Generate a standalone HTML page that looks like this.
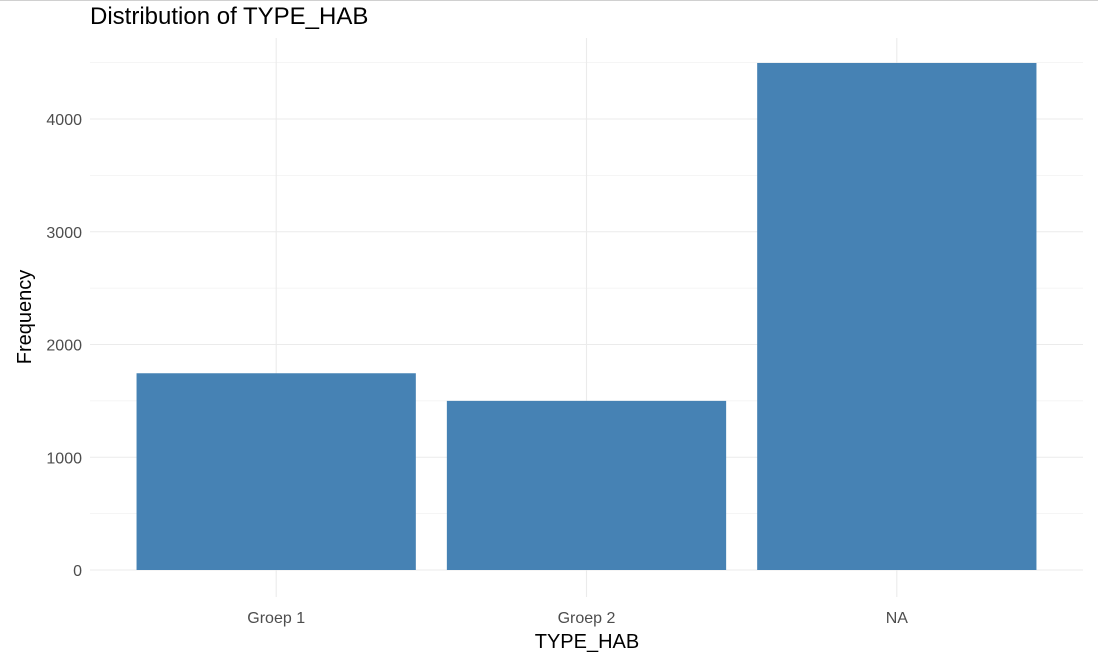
<!DOCTYPE html>
<html><head><meta charset="utf-8"><style>
body{margin:0;background:#fff;}
svg{display:block;font-family:"Liberation Sans",Arial,sans-serif;}
</style></head><body>
<svg id="chart" width="1098" height="656" viewBox="0 0 1098 656">
<line x1="0" y1="0.5" x2="1098" y2="0.5" stroke="#d0d0d0"/>
<text x="90" y="24" font-size="24" fill="#000">Distribution of TYPE_HAB</text>
<g id="grid"></g><g id="bars"></g><g id="axes"></g>
<text x="587" y="648" font-size="20" text-anchor="middle" fill="#000">TYPE_HAB</text>
<text transform="translate(31,317) rotate(-90)" font-size="20" text-anchor="middle" fill="#000">Frequency</text>
</svg>
<script>
const categories = ["Groep 1", "Groep 2", "NA"];
const values = [1745, 1500, 4497];
const yTicks = [0, 1000, 2000, 3000, 4000];
const NS = "http://www.w3.org/2000/svg";
const plotLeft = 90, plotRight = 1083, baseY = 570, pxPerUnit = 451 / 4000, plotTop = 38, plotBottom = 597;
const bandStep = (plotRight - plotLeft) / (categories.length - 1 + 1.2);
const yScale = v => baseY - v * pxPerUnit;
const xScale = i => plotLeft + bandStep * (i + 0.6);
function mk(tag, attrs, parent) { const e = document.createElementNS(NS, tag); for (const k in attrs) e.setAttribute(k, attrs[k]); parent.appendChild(e); return e; }
const gridG = document.getElementById('grid'), barsG = document.getElementById('bars'), axesG = document.getElementById('axes');
for (let v = 0; v <= 4500; v += 500) {
  const l = mk('line', {x1: plotLeft, x2: plotRight, y1: yScale(v), y2: yScale(v), stroke: '#ebebeb', 'stroke-width': v % 1000 === 0 ? 1.1 : 0.6}, gridG);
  
  
}
categories.forEach((c, i) => {
  const l = mk('line', {x1: xScale(i), x2: xScale(i), y1: plotTop, y2: plotBottom, stroke: '#ebebeb', 'stroke-width': 1.1}, gridG);
  
  
  const w = bandStep * 0.9;
  const r = mk('rect', {x: xScale(i) - w / 2, y: yScale(values[i]), width: w, height: baseY - yScale(values[i]), fill: '#4682b4'}, barsG);
  
  
  const t = mk('text', {x: xScale(i), y: 623, 'font-size': 16, 'text-anchor': 'middle', fill: '#4d4d4d'}, axesG);
  t.textContent = c;
  
  
});
yTicks.forEach(v => {
  const t = mk('text', {x: 82, y: yScale(v) + 6, 'font-size': 16, 'text-anchor': 'end', fill: '#4d4d4d'}, axesG);
  t.textContent = v;
  
  
});
</script>
</body></html>
